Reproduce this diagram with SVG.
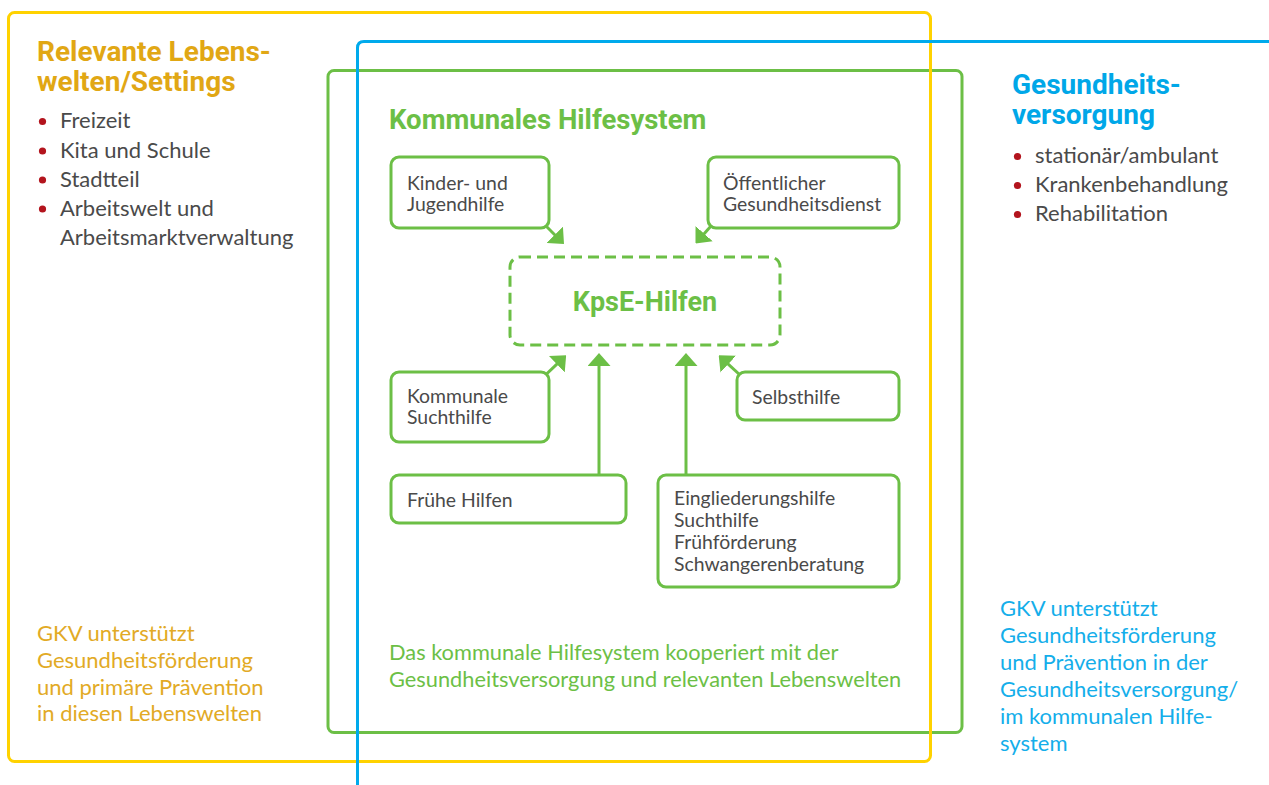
<svg xmlns="http://www.w3.org/2000/svg" width="1269" height="785" viewBox="0 0 1269 785">
<defs>
<style>
.bg{fill:#fff}
.yel{fill:none;stroke:#FFD200;stroke-width:3}
.grn{fill:none;stroke:#6CBF46;stroke-width:3}
.blu{fill:none;stroke:#00AAEC;stroke-width:3}
.box{fill:#fff;stroke:#6CBF46;stroke-width:3}
.dash{fill:#fff;stroke:#6CBF46;stroke-width:3;stroke-dasharray:11 6}
.con{fill:none;stroke:#6CBF46;stroke-width:3}
.t{font-family:Lato,"Liberation Sans",sans-serif;fill:#4A4A4A}
.bt{font-size:19.4px}
.li{font-size:22px}
.h{font-family:Roboto,"Liberation Sans",sans-serif;font-weight:bold}
.hy{fill:#E1A714;font-size:28px}
.hb{fill:#00A7E8;font-size:28px}
.hg{fill:#6CBF46;font-size:27.5px}
.dot{fill:#B3141D}
.ny{font-family:Lato,"Liberation Sans",sans-serif;font-size:22px;fill:#E2AA25}
.ng{font-family:Lato,"Liberation Sans",sans-serif;font-size:21.8px;fill:#6CBF46}
.nb{font-family:Lato,"Liberation Sans",sans-serif;font-size:22px;fill:#14AEEA}
</style>
<marker id="ah" viewBox="0 0 13 23" refX="2" refY="11.5" markerWidth="13" markerHeight="23" markerUnits="userSpaceOnUse" orient="auto">
<path d="M0,0 L13,11.5 L0,23 z" fill="#6CBF46"/>
</marker>
</defs>
<rect class="bg" width="1269" height="785"/>

<g id="kommunales-hilfesystem">
<rect class="grn" x="328" y="70.5" width="634" height="662" rx="6"/>
<text class="h hg" x="389" y="129">Kommunales Hilfesystem</text>
<text class="ng" x="389" y="660">Das kommunale Hilfesystem kooperiert mit der</text>
<text class="ng" x="389" y="687">Gesundheitsversorgung und relevanten Lebenswelten</text>
</g>

<g id="lebenswelten">
<rect class="yel" x="8.5" y="12.5" width="922" height="749" rx="6"/>
<text class="h hy" x="37" y="61">Relevante Lebens-</text>
<text class="h hy" x="37" y="91">welten/Settings</text>
<circle class="dot" cx="42.5" cy="121.5" r="3.6"/>
<circle class="dot" cx="42.5" cy="151" r="3.6"/>
<circle class="dot" cx="42.5" cy="180" r="3.6"/>
<circle class="dot" cx="42.5" cy="209" r="3.6"/>
<text class="t li" x="60" y="128">Freizeit</text>
<text class="t li" x="60" y="158">Kita und Schule</text>
<text class="t li" x="60" y="187">Stadtteil</text>
<text class="t li" x="60" y="216">Arbeitswelt und</text>
<text class="t li" x="60" y="245">Arbeitsmarktverwaltung</text>
<text class="ny" x="37" y="641">GKV unterstützt</text>
<text class="ny" x="37" y="668">Gesundheitsförderung</text>
<text class="ny" x="37" y="695">und primäre Prävention</text>
<text class="ny" x="37" y="721">in diesen Lebenswelten</text>
</g>

<g id="gesundheitsversorgung">
<path class="blu" d="M357.5,785 V48 Q357.5,41.5 364,41.5 H1269"/>
<text class="h hb" x="1012" y="94">Gesundheits-</text>
<text class="h hb" x="1012" y="124">versorgung</text>
<circle class="dot" cx="1017.5" cy="156.5" r="3.6"/>
<circle class="dot" cx="1017.5" cy="185.5" r="3.6"/>
<circle class="dot" cx="1017.5" cy="214.5" r="3.6"/>
<text class="t li" x="1035" y="163">stationär/ambulant</text>
<text class="t li" x="1035" y="192">Krankenbehandlung</text>
<text class="t li" x="1035" y="221">Rehabilitation</text>
<text class="nb" x="1000" y="616">GKV unterstützt</text>
<text class="nb" x="1000" y="643">Gesundheitsförderung</text>
<text class="nb" x="1000" y="670">und Prävention in der</text>
<text class="nb" x="1000" y="697">Gesundheitsversorgung/</text>
<text class="nb" x="1000" y="724">im kommunalen Hilfe-</text>
<text class="nb" x="1000" y="751">system</text>
</g>

<g id="connectors">
<line class="con" x1="546" y1="226" x2="556.2" y2="236.2" marker-end="url(#ah)"/>
<line class="con" x1="711" y1="226" x2="702.8" y2="235.2" marker-end="url(#ah)"/>
<line class="con" x1="546" y1="374.5" x2="558.2" y2="362.8" marker-end="url(#ah)"/>
<line class="con" x1="739.5" y1="374.5" x2="726.8" y2="362.8" marker-end="url(#ah)"/>
<line class="con" x1="599" y1="476" x2="599" y2="364" marker-end="url(#ah)"/>
<line class="con" x1="686" y1="476" x2="686" y2="364" marker-end="url(#ah)"/>
</g>

<g id="kinder-jugendhilfe">
<rect class="box" x="391" y="157" width="158" height="71" rx="8"/>
<text class="t bt" x="407" y="190">Kinder- und</text>
<text class="t bt" x="407" y="211">Jugendhilfe</text>
</g>
<g id="oegd">
<rect class="box" x="708" y="157" width="191" height="71" rx="8"/>
<text class="t bt" x="723" y="190">Öffentlicher</text>
<text class="t bt" x="723" y="211">Gesundheitsdienst</text>
</g>
<g id="kpse-hilfen">
<rect class="dash" x="510" y="257" width="270" height="88" rx="10"/>
<text class="h hg" x="645" y="311" text-anchor="middle" style="font-size:27px">KpsE-Hilfen</text>
</g>
<g id="kommunale-suchthilfe">
<rect class="box" x="391" y="372" width="158" height="70" rx="8"/>
<text class="t bt" x="407" y="403">Kommunale</text>
<text class="t bt" x="407" y="424">Suchthilfe</text>
</g>
<g id="selbsthilfe">
<rect class="box" x="737" y="372" width="162" height="48" rx="8"/>
<text class="t bt" x="752" y="404">Selbsthilfe</text>
</g>
<g id="fruehe-hilfen">
<rect class="box" x="391" y="475" width="235" height="48" rx="8"/>
<text class="t bt" x="407" y="507">Frühe Hilfen</text>
</g>
<g id="eingliederungshilfe">
<rect class="box" x="658" y="475" width="241" height="112" rx="8"/>
<text class="t bt" x="674" y="505">Eingliederungshilfe</text>
<text class="t bt" x="674" y="527">Suchthilfe</text>
<text class="t bt" x="674" y="549">Frühförderung</text>
<text class="t bt" x="674" y="571">Schwangerenberatung</text>
</g>
</svg>
